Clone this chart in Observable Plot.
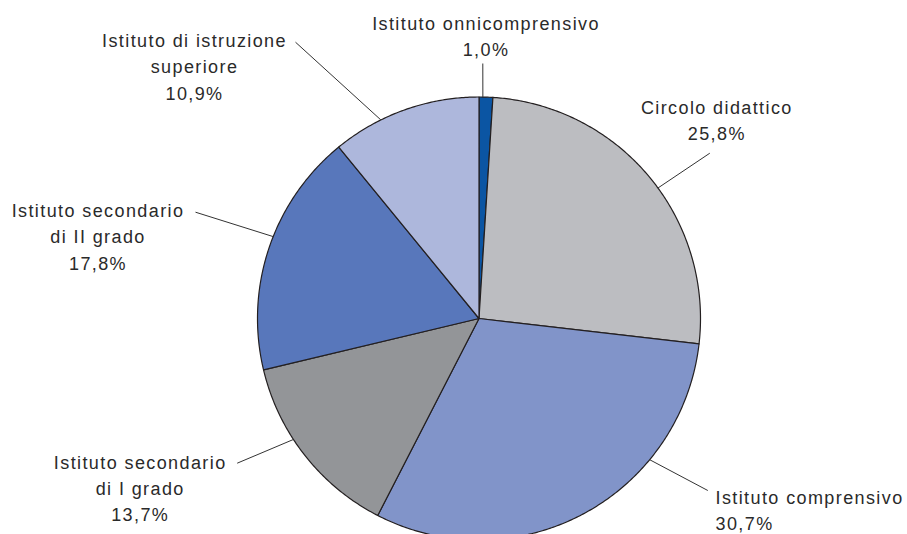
<!DOCTYPE html>
<html>
<head>
<meta charset="utf-8">
<script src="https://cdn.jsdelivr.net/npm/d3@7"></script>
<script src="https://cdn.jsdelivr.net/npm/@observablehq/plot@0.6"></script>
<style>
  html, body { margin: 0; padding: 0; background: #fff; }
  #chart svg text { letter-spacing: 1.4px; }
</style>
</head>
<body>
<div id="chart"></div>
<script>
// ---- data ----
const categories = [
  "Istituto onnicomprensivo",
  "Circolo didattico",
  "Istituto comprensivo",
  "Istituto secondario di I grado",
  "Istituto secondario di II grado",
  "Istituto di istruzione superiore"
];
const shares = [1.0, 25.8, 30.7, 13.7, 17.8, 10.9];
const shareLabels = ["1,0%", "25,8%", "30,7%", "13,7%", "17,8%", "10,9%"];
const labelLines = [
  ["Istituto onnicomprensivo"],
  ["Circolo didattico"],
  ["Istituto comprensivo"],
  ["Istituto secondario", "di I grado"],
  ["Istituto secondario", "di II grado"],
  ["Istituto di istruzione", "superiore"]
];

// ---- style / layout (not data) ----
const colors = ["#0b55a3", "#bcbdc1", "#8194c9", "#939598", "#5877bb", "#adb7dc"];
const R = 221.5; // pie radius in scale units (1 unit = 1 px)
// label layout: x, first baseline, anchor, leader outer end, leader angle (deg)
const labelLayout = [
  {x: 7,      y0: -288.7, anchor: "middle", lx: 3.8,    ly: -255,   ang: 1.0},
  {x: 237.8,  y0: -204.7, anchor: "middle", lx: 230.8,  ly: -165.3, ang: 53.9},
  {x: 236.5,  y0: 185.3,  anchor: "start",  lx: 228.8,  ly: 172,    ang: 129.6},
  {x: -338.8, y0: 150.3,  anchor: "middle", lx: -241.8, ly: 144.7,  ang: 236.9},
  {x: -381,   y0: -101.3, anchor: "middle", lx: -283.5, ly: -106.3, ang: 291.7},
  {x: -284.5, y0: -271.3, anchor: "middle", lx: -183.5, ly: -276.3, ang: 333.7}
];
const lineStep = 26.2;

// ---- build slices from data ----
const pie = d3.pie().sort(null).value(d => d)(shares);
const slicePts = [];
pie.forEach((p, i) => {
  const name = categories[i];
  slicePts.push({name, x: 0, y: 0});
  const n = Math.max(2, Math.ceil((p.endAngle - p.startAngle) / (Math.PI / 360)));
  for (let k = 0; k <= n; k++) {
    const a = p.startAngle + (p.endAngle - p.startAngle) * k / n;
    slicePts.push({name, x: R * Math.sin(a), y: -R * Math.cos(a)});
  }
});

// text rows
const textRows = [];
labelLines.forEach((lines, i) => {
  const L = labelLayout[i];
  const all = [...lines, shareLabels[i]];
  all.forEach((t, j) => textRows.push({text: t, x: L.x, y: L.y0 + j * lineStep, anchor: L.anchor}));
});
const leaders = labelLayout.map(L => {
  const a = L.ang * Math.PI / 180;
  return {x1: L.lx, y1: L.ly, x2: R * Math.sin(a), y2: -R * Math.cos(a)};
});

const chart = Plot.plot({
  width: 907,
  height: 534,
  margin: 0,
  x: {domain: [-478.5, 428.5], range: [0, 907], axis: null},
  y: {domain: [-318, 216], range: [0, 534], axis: null},
  color: {domain: categories, range: colors},
  style: {fontFamily: "'Liberation Sans', Arial, sans-serif", fontSize: "18px", color: "#2a2a2a", background: "#fff"},
  marks: [
    Plot.line(slicePts, {x: "x", y: "y", z: "name", fill: "name", stroke: "#231f20", strokeWidth: 1.2, curve: "linear-closed", strokeLinejoin: "round"}),
    Plot.link(leaders, {x1: "x1", y1: "y1", x2: "x2", y2: "y2", stroke: "#333", strokeWidth: 1}),
    Plot.text(textRows.filter(d => d.anchor === "middle"), {x: "x", y: "y", text: "text", textAnchor: "middle", lineAnchor: "bottom", fill: "#2a2a2a", fontSize: 18}),
    Plot.text(textRows.filter(d => d.anchor === "start"), {x: "x", y: "y", text: "text", textAnchor: "start", lineAnchor: "bottom", fill: "#2a2a2a", fontSize: 18})
  ]
});
document.getElementById("chart").appendChild(chart);
</script>
</body>
</html>
